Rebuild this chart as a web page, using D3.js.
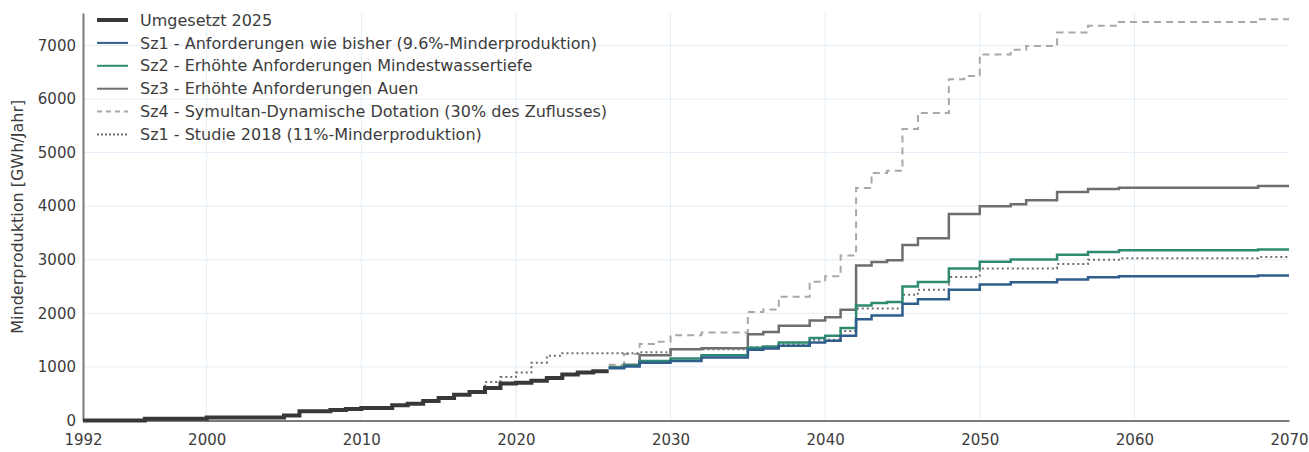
<!DOCTYPE html>
<html>
<head>
<meta charset="utf-8">
<script src="https://cdn.jsdelivr.net/npm/d3@7"></script>
<style>
  html, body { margin: 0; padding: 0; background: #fff; }
  svg { display: block; font-family: "DejaVu Sans", Verdana, sans-serif; }
</style>
</head>
<body>
<svg id="chart" width="1309" height="452"></svg>
<script>
// ---- data (step values: [year, GWh/Jahr], value holds until the next year) ----
const umgesetzt2025 = [[1992,0],[1996,35],[2000,55],[2005,95],[2006,172],[2008,198],[2009,215],[2010,232],[2012,283],[2013,312],[2014,365],[2015,418],[2016,482],[2017,530],[2018,605],[2019,692],[2020,705],[2021,740],[2022,795],[2023,860],[2024,895],[2025,920],[2026,920]];
const sz1 = [[2026,975],[2027,1010],[2028,1080],[2030,1110],[2032,1175],[2035,1320],[2036,1345],[2037,1395],[2039,1455],[2040,1490],[2041,1580],[2042,1890],[2043,1960],[2045,2180],[2046,2265],[2048,2440],[2050,2540],[2052,2580],[2055,2630],[2057,2675],[2059,2690],[2068,2705],[2070,2705]];
const sz2 = [[2026,990],[2027,1030],[2028,1110],[2030,1155],[2032,1220],[2035,1360],[2036,1380],[2037,1455],[2039,1540],[2040,1580],[2041,1725],[2042,2145],[2043,2195],[2044,2210],[2045,2500],[2046,2585],[2048,2835],[2050,2965],[2052,3005],[2055,3095],[2057,3145],[2059,3175],[2068,3190],[2070,3190]];
const sz3 = [[2026,1000],[2027,1040],[2028,1220],[2030,1330],[2032,1350],[2035,1610],[2036,1650],[2037,1770],[2039,1865],[2040,1925],[2041,2065],[2042,2895],[2043,2960],[2044,2990],[2045,3275],[2046,3400],[2048,3855],[2050,4000],[2052,4035],[2053,4110],[2055,4265],[2057,4320],[2059,4345],[2068,4375],[2070,4375]];
const sz4 = [[2026,1040],[2027,1240],[2028,1430],[2029,1470],[2030,1590],[2032,1640],[2035,2025],[2036,2070],[2037,2310],[2039,2590],[2040,2690],[2041,3080],[2042,4340],[2043,4620],[2044,4660],[2045,5440],[2046,5740],[2048,6370],[2049,6430],[2050,6830],[2052,6920],[2053,6990],[2055,7240],[2057,7365],[2059,7435],[2068,7490],[2070,7490]];
const studie2018 = [[2017,545],[2018,720],[2019,810],[2020,895],[2021,1080],[2022,1210],[2023,1255],[2028,1275],[2030,1330],[2035,1365],[2037,1425],[2039,1505],[2041,1670],[2042,2090],[2045,2345],[2046,2440],[2048,2680],[2050,2835],[2055,2920],[2057,3000],[2059,3030],[2068,3050],[2070,3050]];

const seriesNames = [
  "Umgesetzt 2025",
  "Sz1 - Anforderungen wie bisher (9.6%-Minderproduktion)",
  "Sz2 - Erhöhte Anforderungen Mindestwassertiefe",
  "Sz3 - Erhöhte Anforderungen Auen",
  "Sz4 - Symultan-Dynamische Dotation (30% des Zuflusses)",
  "Sz1 - Studie 2018 (11%-Minderproduktion)"
];
const xTickValues = [1992, 2000, 2010, 2020, 2030, 2040, 2050, 2060, 2070];
const yTickValues = [0, 1000, 2000, 3000, 4000, 5000, 6000, 7000];
const yAxisTitle = "Minderproduktion [GWh/Jahr]";

// ---- styles ----
const styles = [
  { data: umgesetzt2025, color: "#383838", width: 4,   dash: null },
  { data: sz1,          color: "#2f5d8c", width: 2.5, dash: null },
  { data: sz2,          color: "#2e8a70", width: 2.5, dash: null },
  { data: sz3,          color: "#6e6e6e", width: 2.5, dash: null },
  { data: sz4,          color: "#a8a8a8", width: 2,   dash: "7,5" },
  { data: studie2018,   color: "#707070", width: 2,   dash: "2,3" }
];

const svg = d3.select("#chart");
const W = 1309, H = 452;
const m = { left: 83, right: 20, top: 13, bottom: 31.5 };

const x = d3.scaleLinear().domain([1992, 2070]).range([m.left, W - m.right]);
const y = d3.scaleLinear().domain([0, 7605]).range([H - m.bottom, m.top]);

// grid
const grid = svg.append("g");
grid.selectAll("line.v").data(xTickValues.filter(d => d !== 1992 && d !== 2070)).enter().append("line")
  .attr("x1", d => x(d)).attr("x2", d => x(d))
  .attr("y1", y.range()[1]).attr("y2", y.range()[0])
  .attr("stroke", "#e3edf6").attr("stroke-width", 1);
grid.selectAll("line.h").data(yTickValues.filter(d => d !== 0)).enter().append("line")
  .attr("x1", x.range()[0]).attr("x2", x.range()[1])
  .attr("y1", d => y(d)).attr("y2", d => y(d))
  .attr("stroke", "#e3edf6").attr("stroke-width", 1);

// axes
const xAxis = d3.axisBottom(x).tickValues(xTickValues).tickFormat(d3.format("d")).tickSize(0).tickPadding(14);
const gx = svg.append("g").attr("transform", `translate(0,${y(0)})`).call(xAxis);
gx.select(".domain").attr("stroke", "#7a7a7a").attr("stroke-width", 2);
gx.selectAll("text").attr("font-size", 15).attr("fill", "#3c3c3c").attr("font-family", "DejaVu Sans");

const yAxis = d3.axisLeft(y).tickValues(yTickValues).tickFormat(d3.format("d")).tickSize(0).tickPadding(7);
const gy = svg.append("g").attr("transform", `translate(${x(1992)},0)`).call(yAxis);
gy.select(".domain").attr("stroke", "#7a7a7a").attr("stroke-width", 2);
gy.selectAll("text").attr("font-size", 15).attr("fill", "#3c3c3c").attr("font-family", "DejaVu Sans");

svg.append("text")
  .attr("transform", `translate(23,${(y.range()[0] + y.range()[1]) / 2}) rotate(-90)`)
  .attr("text-anchor", "middle")
  .attr("font-size", 16).attr("fill", "#3c3c3c")
  .text(yAxisTitle);

// lines
const line = d3.line().x(d => x(d[0])).y(d => y(d[1])).curve(d3.curveStepAfter);
const drawOrder = [4, 3, 5, 2, 1, 0];
drawOrder.forEach(i => {
  const s = styles[i];
  svg.append("path").datum(s.data)
    .attr("d", line)
    .attr("fill", "none")
    .attr("stroke", s.color)
    .attr("stroke-width", s.width)
    .attr("stroke-dasharray", s.dash)
    .attr("stroke-linejoin", "miter");
});

// legend
const lg = svg.append("g").attr("transform", "translate(97,20)");
seriesNames.forEach((name, i) => {
  const s = styles[i];
  const row = lg.append("g").attr("transform", `translate(0,${i * 22.9})`);
  row.append("line").attr("x1", 0).attr("x2", 31).attr("y1", 0).attr("y2", 0)
    .attr("stroke", s.color).attr("stroke-width", i === 0 ? 4 : 2)
    .attr("stroke-dasharray", i === 4 ? "5,4" : (i === 5 ? "2,2" : null));
  row.append("text").attr("x", 43).attr("y", 0).attr("dy", "0.35em")
    .attr("font-size", 16).attr("fill", "#3c3c3c").text(name);
});
</script>
</body>
</html>
